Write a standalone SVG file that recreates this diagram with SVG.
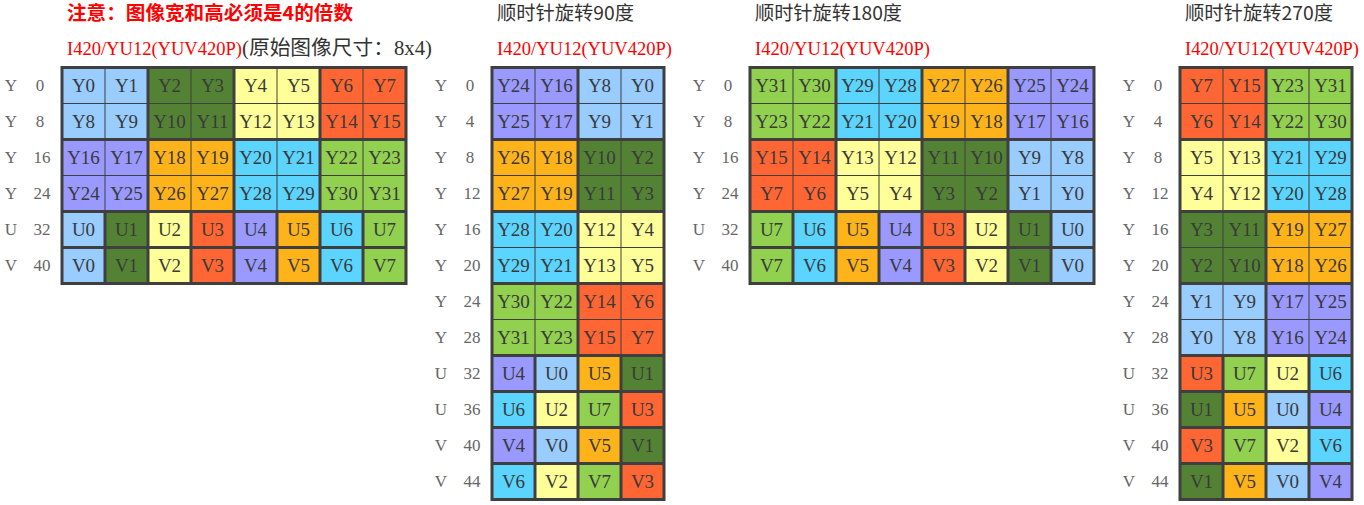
<svg xmlns="http://www.w3.org/2000/svg" width="1364" height="505" viewBox="0 0 1364 505">
<style>
.bg{fill:#3f3f3f}
.lb{fill:#99CCFF}.dg{fill:#548235}.ye{fill:#FFFF99}.rd{fill:#FF6633}.pu{fill:#9999FF}.or{fill:#FFB31A}.cy{fill:#5BD5FF}.gr{fill:#92D050}
text{font-family:"Liberation Serif","Noto Sans CJK SC",serif}
.c{font-size:19px;fill:#3a3a3a;text-anchor:middle}
.l{font-size:17px;fill:#666;text-anchor:middle}
.h{font-family:"Noto Sans CJK SC",sans-serif;font-size:19px;fill:#333}
.red{font-size:18.5px;fill:#FF0000}
.note{font-family:"Noto Sans CJK SC",sans-serif;font-size:19px;font-weight:bold;fill:#FF0000}
.sub{font-size:20px;fill:#333}
</style>
<g id="titles">
<text class="note" x="67" y="20" textLength="286" lengthAdjust="spacingAndGlyphs">注意：图像宽和高必须是4的倍数</text>
<text class="red" x="67" y="55" textLength="175" lengthAdjust="spacingAndGlyphs">I420/YU12(YUV420P)</text>
<text class="sub" x="242" y="55" textLength="190" lengthAdjust="spacingAndGlyphs">(原始图像尺寸：8x4)</text>
<text class="h" x="497" y="20" textLength="137" lengthAdjust="spacingAndGlyphs">顺时针旋转90度</text>
<text class="red" x="497" y="55" textLength="175" lengthAdjust="spacingAndGlyphs">I420/YU12(YUV420P)</text>
<text class="h" x="755" y="20" textLength="147" lengthAdjust="spacingAndGlyphs">顺时针旋转180度</text>
<text class="red" x="755" y="55" textLength="175" lengthAdjust="spacingAndGlyphs">I420/YU12(YUV420P)</text>
<text class="h" x="1185" y="20" textLength="148" lengthAdjust="spacingAndGlyphs">顺时针旋转270度</text>
<text class="red" x="1185" y="55" textLength="174" lengthAdjust="spacingAndGlyphs">I420/YU12(YUV420P)</text>
</g>

<g id="grid-original" transform="translate(62,0)">
<g id="a-labels">
<text class="l" x="-51" y="91">Y</text><text class="l" x="-22" y="91">0</text>
<text class="l" x="-51" y="127">Y</text><text class="l" x="-22" y="127">8</text>
<text class="l" x="-51" y="163">Y</text><text class="l" x="-20" y="163">16</text>
<text class="l" x="-51" y="199">Y</text><text class="l" x="-20" y="199">24</text>
<text class="l" x="-51" y="235">U</text><text class="l" x="-20" y="235">32</text>
<text class="l" x="-51" y="271">V</text><text class="l" x="-20" y="271">40</text>
</g>
<rect class="bg" x="-1.5" y="66" width="347" height="219"/>
<g id="a-Y0"><rect class="lb" x="1.5" y="69" width="41" height="34"/><text class="c" x="21.5" y="92">Y0</text></g>
<g id="a-Y1"><rect class="lb" x="43.5" y="69" width="41" height="34"/><text class="c" x="64.5" y="92">Y1</text></g>
<g id="a-Y2"><rect class="dg" x="87.5" y="69" width="41" height="34"/><text class="c" x="107.5" y="92">Y2</text></g>
<g id="a-Y3"><rect class="dg" x="129.5" y="69" width="41" height="34"/><text class="c" x="150.5" y="92">Y3</text></g>
<g id="a-Y4"><rect class="ye" x="173.5" y="69" width="41" height="34"/><text class="c" x="193.5" y="92">Y4</text></g>
<g id="a-Y5"><rect class="ye" x="215.5" y="69" width="41" height="34"/><text class="c" x="236.5" y="92">Y5</text></g>
<g id="a-Y6"><rect class="rd" x="259.5" y="69" width="41" height="34"/><text class="c" x="279.5" y="92">Y6</text></g>
<g id="a-Y7"><rect class="rd" x="301.5" y="69" width="41" height="34"/><text class="c" x="322.5" y="92">Y7</text></g>
<g id="a-Y8"><rect class="lb" x="1.5" y="104" width="41" height="34"/><text class="c" x="21.5" y="128">Y8</text></g>
<g id="a-Y9"><rect class="lb" x="43.5" y="104" width="41" height="34"/><text class="c" x="64.5" y="128">Y9</text></g>
<g id="a-Y10"><rect class="dg" x="87.5" y="104" width="41" height="34"/><text class="c" x="107.5" y="128">Y10</text></g>
<g id="a-Y11"><rect class="dg" x="129.5" y="104" width="41" height="34"/><text class="c" x="150.5" y="128">Y11</text></g>
<g id="a-Y12"><rect class="ye" x="173.5" y="104" width="41" height="34"/><text class="c" x="193.5" y="128">Y12</text></g>
<g id="a-Y13"><rect class="ye" x="215.5" y="104" width="41" height="34"/><text class="c" x="236.5" y="128">Y13</text></g>
<g id="a-Y14"><rect class="rd" x="259.5" y="104" width="41" height="34"/><text class="c" x="279.5" y="128">Y14</text></g>
<g id="a-Y15"><rect class="rd" x="301.5" y="104" width="41" height="34"/><text class="c" x="322.5" y="128">Y15</text></g>
<g id="a-Y16"><rect class="pu" x="1.5" y="141" width="41" height="34"/><text class="c" x="21.5" y="164">Y16</text></g>
<g id="a-Y17"><rect class="pu" x="43.5" y="141" width="41" height="34"/><text class="c" x="64.5" y="164">Y17</text></g>
<g id="a-Y18"><rect class="or" x="87.5" y="141" width="41" height="34"/><text class="c" x="107.5" y="164">Y18</text></g>
<g id="a-Y19"><rect class="or" x="129.5" y="141" width="41" height="34"/><text class="c" x="150.5" y="164">Y19</text></g>
<g id="a-Y20"><rect class="cy" x="173.5" y="141" width="41" height="34"/><text class="c" x="193.5" y="164">Y20</text></g>
<g id="a-Y21"><rect class="cy" x="215.5" y="141" width="41" height="34"/><text class="c" x="236.5" y="164">Y21</text></g>
<g id="a-Y22"><rect class="gr" x="259.5" y="141" width="41" height="34"/><text class="c" x="279.5" y="164">Y22</text></g>
<g id="a-Y23"><rect class="gr" x="301.5" y="141" width="41" height="34"/><text class="c" x="322.5" y="164">Y23</text></g>
<g id="a-Y24"><rect class="pu" x="1.5" y="176" width="41" height="34"/><text class="c" x="21.5" y="200">Y24</text></g>
<g id="a-Y25"><rect class="pu" x="43.5" y="176" width="41" height="34"/><text class="c" x="64.5" y="200">Y25</text></g>
<g id="a-Y26"><rect class="or" x="87.5" y="176" width="41" height="34"/><text class="c" x="107.5" y="200">Y26</text></g>
<g id="a-Y27"><rect class="or" x="129.5" y="176" width="41" height="34"/><text class="c" x="150.5" y="200">Y27</text></g>
<g id="a-Y28"><rect class="cy" x="173.5" y="176" width="41" height="34"/><text class="c" x="193.5" y="200">Y28</text></g>
<g id="a-Y29"><rect class="cy" x="215.5" y="176" width="41" height="34"/><text class="c" x="236.5" y="200">Y29</text></g>
<g id="a-Y30"><rect class="gr" x="259.5" y="176" width="41" height="34"/><text class="c" x="279.5" y="200">Y30</text></g>
<g id="a-Y31"><rect class="gr" x="301.5" y="176" width="41" height="34"/><text class="c" x="322.5" y="200">Y31</text></g>
<g id="a-U0"><rect class="lb" x="1.5" y="213" width="40" height="33"/><text class="c" x="21.5" y="236">U0</text></g>
<g id="a-U1"><rect class="dg" x="44.5" y="213" width="40" height="33"/><text class="c" x="64.5" y="236">U1</text></g>
<g id="a-U2"><rect class="ye" x="87.5" y="213" width="40" height="33"/><text class="c" x="107.5" y="236">U2</text></g>
<g id="a-U3"><rect class="rd" x="130.5" y="213" width="40" height="33"/><text class="c" x="150.5" y="236">U3</text></g>
<g id="a-U4"><rect class="pu" x="173.5" y="213" width="40" height="33"/><text class="c" x="193.5" y="236">U4</text></g>
<g id="a-U5"><rect class="or" x="216.5" y="213" width="40" height="33"/><text class="c" x="236.5" y="236">U5</text></g>
<g id="a-U6"><rect class="cy" x="259.5" y="213" width="40" height="33"/><text class="c" x="279.5" y="236">U6</text></g>
<g id="a-U7"><rect class="gr" x="302.5" y="213" width="40" height="33"/><text class="c" x="322.5" y="236">U7</text></g>
<g id="a-V0"><rect class="lb" x="1.5" y="249" width="40" height="33"/><text class="c" x="21.5" y="272">V0</text></g>
<g id="a-V1"><rect class="dg" x="44.5" y="249" width="40" height="33"/><text class="c" x="64.5" y="272">V1</text></g>
<g id="a-V2"><rect class="ye" x="87.5" y="249" width="40" height="33"/><text class="c" x="107.5" y="272">V2</text></g>
<g id="a-V3"><rect class="rd" x="130.5" y="249" width="40" height="33"/><text class="c" x="150.5" y="272">V3</text></g>
<g id="a-V4"><rect class="pu" x="173.5" y="249" width="40" height="33"/><text class="c" x="193.5" y="272">V4</text></g>
<g id="a-V5"><rect class="or" x="216.5" y="249" width="40" height="33"/><text class="c" x="236.5" y="272">V5</text></g>
<g id="a-V6"><rect class="cy" x="259.5" y="249" width="40" height="33"/><text class="c" x="279.5" y="272">V6</text></g>
<g id="a-V7"><rect class="gr" x="302.5" y="249" width="40" height="33"/><text class="c" x="322.5" y="272">V7</text></g>
</g>

<g id="grid-90" transform="translate(492,0)">
<g id="b-labels">
<text class="l" x="-51" y="91">Y</text><text class="l" x="-22" y="91">0</text>
<text class="l" x="-51" y="127">Y</text><text class="l" x="-22" y="127">4</text>
<text class="l" x="-51" y="163">Y</text><text class="l" x="-22" y="163">8</text>
<text class="l" x="-51" y="199">Y</text><text class="l" x="-20" y="199">12</text>
<text class="l" x="-51" y="235">Y</text><text class="l" x="-20" y="235">16</text>
<text class="l" x="-51" y="271">Y</text><text class="l" x="-20" y="271">20</text>
<text class="l" x="-51" y="307">Y</text><text class="l" x="-20" y="307">24</text>
<text class="l" x="-51" y="343">Y</text><text class="l" x="-20" y="343">28</text>
<text class="l" x="-51" y="379">U</text><text class="l" x="-20" y="379">32</text>
<text class="l" x="-51" y="415">U</text><text class="l" x="-20" y="415">36</text>
<text class="l" x="-51" y="451">V</text><text class="l" x="-20" y="451">40</text>
<text class="l" x="-51" y="487">V</text><text class="l" x="-20" y="487">44</text>
</g>
<rect class="bg" x="-1.5" y="66" width="175" height="435"/>
<g id="b-Y24"><rect class="pu" x="1.5" y="69" width="41" height="34"/><text class="c" x="21.5" y="92">Y24</text></g>
<g id="b-Y16"><rect class="pu" x="43.5" y="69" width="41" height="34"/><text class="c" x="64.5" y="92">Y16</text></g>
<g id="b-Y8"><rect class="lb" x="87.5" y="69" width="41" height="34"/><text class="c" x="107.5" y="92">Y8</text></g>
<g id="b-Y0"><rect class="lb" x="129.5" y="69" width="41" height="34"/><text class="c" x="150.5" y="92">Y0</text></g>
<g id="b-Y25"><rect class="pu" x="1.5" y="104" width="41" height="34"/><text class="c" x="21.5" y="128">Y25</text></g>
<g id="b-Y17"><rect class="pu" x="43.5" y="104" width="41" height="34"/><text class="c" x="64.5" y="128">Y17</text></g>
<g id="b-Y9"><rect class="lb" x="87.5" y="104" width="41" height="34"/><text class="c" x="107.5" y="128">Y9</text></g>
<g id="b-Y1"><rect class="lb" x="129.5" y="104" width="41" height="34"/><text class="c" x="150.5" y="128">Y1</text></g>
<g id="b-Y26"><rect class="or" x="1.5" y="141" width="41" height="34"/><text class="c" x="21.5" y="164">Y26</text></g>
<g id="b-Y18"><rect class="or" x="43.5" y="141" width="41" height="34"/><text class="c" x="64.5" y="164">Y18</text></g>
<g id="b-Y10"><rect class="dg" x="87.5" y="141" width="41" height="34"/><text class="c" x="107.5" y="164">Y10</text></g>
<g id="b-Y2"><rect class="dg" x="129.5" y="141" width="41" height="34"/><text class="c" x="150.5" y="164">Y2</text></g>
<g id="b-Y27"><rect class="or" x="1.5" y="176" width="41" height="34"/><text class="c" x="21.5" y="200">Y27</text></g>
<g id="b-Y19"><rect class="or" x="43.5" y="176" width="41" height="34"/><text class="c" x="64.5" y="200">Y19</text></g>
<g id="b-Y11"><rect class="dg" x="87.5" y="176" width="41" height="34"/><text class="c" x="107.5" y="200">Y11</text></g>
<g id="b-Y3"><rect class="dg" x="129.5" y="176" width="41" height="34"/><text class="c" x="150.5" y="200">Y3</text></g>
<g id="b-Y28"><rect class="cy" x="1.5" y="213" width="41" height="34"/><text class="c" x="21.5" y="236">Y28</text></g>
<g id="b-Y20"><rect class="cy" x="43.5" y="213" width="41" height="34"/><text class="c" x="64.5" y="236">Y20</text></g>
<g id="b-Y12"><rect class="ye" x="87.5" y="213" width="41" height="34"/><text class="c" x="107.5" y="236">Y12</text></g>
<g id="b-Y4"><rect class="ye" x="129.5" y="213" width="41" height="34"/><text class="c" x="150.5" y="236">Y4</text></g>
<g id="b-Y29"><rect class="cy" x="1.5" y="248" width="41" height="34"/><text class="c" x="21.5" y="272">Y29</text></g>
<g id="b-Y21"><rect class="cy" x="43.5" y="248" width="41" height="34"/><text class="c" x="64.5" y="272">Y21</text></g>
<g id="b-Y13"><rect class="ye" x="87.5" y="248" width="41" height="34"/><text class="c" x="107.5" y="272">Y13</text></g>
<g id="b-Y5"><rect class="ye" x="129.5" y="248" width="41" height="34"/><text class="c" x="150.5" y="272">Y5</text></g>
<g id="b-Y30"><rect class="gr" x="1.5" y="285" width="41" height="34"/><text class="c" x="21.5" y="308">Y30</text></g>
<g id="b-Y22"><rect class="gr" x="43.5" y="285" width="41" height="34"/><text class="c" x="64.5" y="308">Y22</text></g>
<g id="b-Y14"><rect class="rd" x="87.5" y="285" width="41" height="34"/><text class="c" x="107.5" y="308">Y14</text></g>
<g id="b-Y6"><rect class="rd" x="129.5" y="285" width="41" height="34"/><text class="c" x="150.5" y="308">Y6</text></g>
<g id="b-Y31"><rect class="gr" x="1.5" y="320" width="41" height="34"/><text class="c" x="21.5" y="344">Y31</text></g>
<g id="b-Y23"><rect class="gr" x="43.5" y="320" width="41" height="34"/><text class="c" x="64.5" y="344">Y23</text></g>
<g id="b-Y15"><rect class="rd" x="87.5" y="320" width="41" height="34"/><text class="c" x="107.5" y="344">Y15</text></g>
<g id="b-Y7"><rect class="rd" x="129.5" y="320" width="41" height="34"/><text class="c" x="150.5" y="344">Y7</text></g>
<g id="b-U4"><rect class="pu" x="1.5" y="357" width="40" height="33"/><text class="c" x="21.5" y="380">U4</text></g>
<g id="b-U0"><rect class="lb" x="44.5" y="357" width="40" height="33"/><text class="c" x="64.5" y="380">U0</text></g>
<g id="b-U5"><rect class="or" x="87.5" y="357" width="40" height="33"/><text class="c" x="107.5" y="380">U5</text></g>
<g id="b-U1"><rect class="dg" x="130.5" y="357" width="40" height="33"/><text class="c" x="150.5" y="380">U1</text></g>
<g id="b-U6"><rect class="cy" x="1.5" y="393" width="40" height="33"/><text class="c" x="21.5" y="416">U6</text></g>
<g id="b-U2"><rect class="ye" x="44.5" y="393" width="40" height="33"/><text class="c" x="64.5" y="416">U2</text></g>
<g id="b-U7"><rect class="gr" x="87.5" y="393" width="40" height="33"/><text class="c" x="107.5" y="416">U7</text></g>
<g id="b-U3"><rect class="rd" x="130.5" y="393" width="40" height="33"/><text class="c" x="150.5" y="416">U3</text></g>
<g id="b-V4"><rect class="pu" x="1.5" y="429" width="40" height="33"/><text class="c" x="21.5" y="452">V4</text></g>
<g id="b-V0"><rect class="lb" x="44.5" y="429" width="40" height="33"/><text class="c" x="64.5" y="452">V0</text></g>
<g id="b-V5"><rect class="or" x="87.5" y="429" width="40" height="33"/><text class="c" x="107.5" y="452">V5</text></g>
<g id="b-V1"><rect class="dg" x="130.5" y="429" width="40" height="33"/><text class="c" x="150.5" y="452">V1</text></g>
<g id="b-V6"><rect class="cy" x="1.5" y="465" width="40" height="33"/><text class="c" x="21.5" y="488">V6</text></g>
<g id="b-V2"><rect class="ye" x="44.5" y="465" width="40" height="33"/><text class="c" x="64.5" y="488">V2</text></g>
<g id="b-V7"><rect class="gr" x="87.5" y="465" width="40" height="33"/><text class="c" x="107.5" y="488">V7</text></g>
<g id="b-V3"><rect class="rd" x="130.5" y="465" width="40" height="33"/><text class="c" x="150.5" y="488">V3</text></g>
</g>

<g id="grid-180" transform="translate(750,0)">
<g id="c-labels">
<text class="l" x="-51" y="91">Y</text><text class="l" x="-22" y="91">0</text>
<text class="l" x="-51" y="127">Y</text><text class="l" x="-22" y="127">8</text>
<text class="l" x="-51" y="163">Y</text><text class="l" x="-20" y="163">16</text>
<text class="l" x="-51" y="199">Y</text><text class="l" x="-20" y="199">24</text>
<text class="l" x="-51" y="235">U</text><text class="l" x="-20" y="235">32</text>
<text class="l" x="-51" y="271">V</text><text class="l" x="-20" y="271">40</text>
</g>
<rect class="bg" x="-1.5" y="66" width="347" height="219"/>
<g id="c-Y31"><rect class="gr" x="1.5" y="69" width="41" height="34"/><text class="c" x="21.5" y="92">Y31</text></g>
<g id="c-Y30"><rect class="gr" x="43.5" y="69" width="41" height="34"/><text class="c" x="64.5" y="92">Y30</text></g>
<g id="c-Y29"><rect class="cy" x="87.5" y="69" width="41" height="34"/><text class="c" x="107.5" y="92">Y29</text></g>
<g id="c-Y28"><rect class="cy" x="129.5" y="69" width="41" height="34"/><text class="c" x="150.5" y="92">Y28</text></g>
<g id="c-Y27"><rect class="or" x="173.5" y="69" width="41" height="34"/><text class="c" x="193.5" y="92">Y27</text></g>
<g id="c-Y26"><rect class="or" x="215.5" y="69" width="41" height="34"/><text class="c" x="236.5" y="92">Y26</text></g>
<g id="c-Y25"><rect class="pu" x="259.5" y="69" width="41" height="34"/><text class="c" x="279.5" y="92">Y25</text></g>
<g id="c-Y24"><rect class="pu" x="301.5" y="69" width="41" height="34"/><text class="c" x="322.5" y="92">Y24</text></g>
<g id="c-Y23"><rect class="gr" x="1.5" y="104" width="41" height="34"/><text class="c" x="21.5" y="128">Y23</text></g>
<g id="c-Y22"><rect class="gr" x="43.5" y="104" width="41" height="34"/><text class="c" x="64.5" y="128">Y22</text></g>
<g id="c-Y21"><rect class="cy" x="87.5" y="104" width="41" height="34"/><text class="c" x="107.5" y="128">Y21</text></g>
<g id="c-Y20"><rect class="cy" x="129.5" y="104" width="41" height="34"/><text class="c" x="150.5" y="128">Y20</text></g>
<g id="c-Y19"><rect class="or" x="173.5" y="104" width="41" height="34"/><text class="c" x="193.5" y="128">Y19</text></g>
<g id="c-Y18"><rect class="or" x="215.5" y="104" width="41" height="34"/><text class="c" x="236.5" y="128">Y18</text></g>
<g id="c-Y17"><rect class="pu" x="259.5" y="104" width="41" height="34"/><text class="c" x="279.5" y="128">Y17</text></g>
<g id="c-Y16"><rect class="pu" x="301.5" y="104" width="41" height="34"/><text class="c" x="322.5" y="128">Y16</text></g>
<g id="c-Y15"><rect class="rd" x="1.5" y="141" width="41" height="34"/><text class="c" x="21.5" y="164">Y15</text></g>
<g id="c-Y14"><rect class="rd" x="43.5" y="141" width="41" height="34"/><text class="c" x="64.5" y="164">Y14</text></g>
<g id="c-Y13"><rect class="ye" x="87.5" y="141" width="41" height="34"/><text class="c" x="107.5" y="164">Y13</text></g>
<g id="c-Y12"><rect class="ye" x="129.5" y="141" width="41" height="34"/><text class="c" x="150.5" y="164">Y12</text></g>
<g id="c-Y11"><rect class="dg" x="173.5" y="141" width="41" height="34"/><text class="c" x="193.5" y="164">Y11</text></g>
<g id="c-Y10"><rect class="dg" x="215.5" y="141" width="41" height="34"/><text class="c" x="236.5" y="164">Y10</text></g>
<g id="c-Y9"><rect class="lb" x="259.5" y="141" width="41" height="34"/><text class="c" x="279.5" y="164">Y9</text></g>
<g id="c-Y8"><rect class="lb" x="301.5" y="141" width="41" height="34"/><text class="c" x="322.5" y="164">Y8</text></g>
<g id="c-Y7"><rect class="rd" x="1.5" y="176" width="41" height="34"/><text class="c" x="21.5" y="200">Y7</text></g>
<g id="c-Y6"><rect class="rd" x="43.5" y="176" width="41" height="34"/><text class="c" x="64.5" y="200">Y6</text></g>
<g id="c-Y5"><rect class="ye" x="87.5" y="176" width="41" height="34"/><text class="c" x="107.5" y="200">Y5</text></g>
<g id="c-Y4"><rect class="ye" x="129.5" y="176" width="41" height="34"/><text class="c" x="150.5" y="200">Y4</text></g>
<g id="c-Y3"><rect class="dg" x="173.5" y="176" width="41" height="34"/><text class="c" x="193.5" y="200">Y3</text></g>
<g id="c-Y2"><rect class="dg" x="215.5" y="176" width="41" height="34"/><text class="c" x="236.5" y="200">Y2</text></g>
<g id="c-Y1"><rect class="lb" x="259.5" y="176" width="41" height="34"/><text class="c" x="279.5" y="200">Y1</text></g>
<g id="c-Y0"><rect class="lb" x="301.5" y="176" width="41" height="34"/><text class="c" x="322.5" y="200">Y0</text></g>
<g id="c-U7"><rect class="gr" x="1.5" y="213" width="40" height="33"/><text class="c" x="21.5" y="236">U7</text></g>
<g id="c-U6"><rect class="cy" x="44.5" y="213" width="40" height="33"/><text class="c" x="64.5" y="236">U6</text></g>
<g id="c-U5"><rect class="or" x="87.5" y="213" width="40" height="33"/><text class="c" x="107.5" y="236">U5</text></g>
<g id="c-U4"><rect class="pu" x="130.5" y="213" width="40" height="33"/><text class="c" x="150.5" y="236">U4</text></g>
<g id="c-U3"><rect class="rd" x="173.5" y="213" width="40" height="33"/><text class="c" x="193.5" y="236">U3</text></g>
<g id="c-U2"><rect class="ye" x="216.5" y="213" width="40" height="33"/><text class="c" x="236.5" y="236">U2</text></g>
<g id="c-U1"><rect class="dg" x="259.5" y="213" width="40" height="33"/><text class="c" x="279.5" y="236">U1</text></g>
<g id="c-U0"><rect class="lb" x="302.5" y="213" width="40" height="33"/><text class="c" x="322.5" y="236">U0</text></g>
<g id="c-V7"><rect class="gr" x="1.5" y="249" width="40" height="33"/><text class="c" x="21.5" y="272">V7</text></g>
<g id="c-V6"><rect class="cy" x="44.5" y="249" width="40" height="33"/><text class="c" x="64.5" y="272">V6</text></g>
<g id="c-V5"><rect class="or" x="87.5" y="249" width="40" height="33"/><text class="c" x="107.5" y="272">V5</text></g>
<g id="c-V4"><rect class="pu" x="130.5" y="249" width="40" height="33"/><text class="c" x="150.5" y="272">V4</text></g>
<g id="c-V3"><rect class="rd" x="173.5" y="249" width="40" height="33"/><text class="c" x="193.5" y="272">V3</text></g>
<g id="c-V2"><rect class="ye" x="216.5" y="249" width="40" height="33"/><text class="c" x="236.5" y="272">V2</text></g>
<g id="c-V1"><rect class="dg" x="259.5" y="249" width="40" height="33"/><text class="c" x="279.5" y="272">V1</text></g>
<g id="c-V0"><rect class="lb" x="302.5" y="249" width="40" height="33"/><text class="c" x="322.5" y="272">V0</text></g>
</g>

<g id="grid-270" transform="translate(1180,0)">
<g id="d-labels">
<text class="l" x="-51" y="91">Y</text><text class="l" x="-22" y="91">0</text>
<text class="l" x="-51" y="127">Y</text><text class="l" x="-22" y="127">4</text>
<text class="l" x="-51" y="163">Y</text><text class="l" x="-22" y="163">8</text>
<text class="l" x="-51" y="199">Y</text><text class="l" x="-20" y="199">12</text>
<text class="l" x="-51" y="235">Y</text><text class="l" x="-20" y="235">16</text>
<text class="l" x="-51" y="271">Y</text><text class="l" x="-20" y="271">20</text>
<text class="l" x="-51" y="307">Y</text><text class="l" x="-20" y="307">24</text>
<text class="l" x="-51" y="343">Y</text><text class="l" x="-20" y="343">28</text>
<text class="l" x="-51" y="379">U</text><text class="l" x="-20" y="379">32</text>
<text class="l" x="-51" y="415">U</text><text class="l" x="-20" y="415">36</text>
<text class="l" x="-51" y="451">V</text><text class="l" x="-20" y="451">40</text>
<text class="l" x="-51" y="487">V</text><text class="l" x="-20" y="487">44</text>
</g>
<rect class="bg" x="-1.5" y="66" width="175" height="435"/>
<g id="d-Y7"><rect class="rd" x="1.5" y="69" width="41" height="34"/><text class="c" x="21.5" y="92">Y7</text></g>
<g id="d-Y15"><rect class="rd" x="43.5" y="69" width="41" height="34"/><text class="c" x="64.5" y="92">Y15</text></g>
<g id="d-Y23"><rect class="gr" x="87.5" y="69" width="41" height="34"/><text class="c" x="107.5" y="92">Y23</text></g>
<g id="d-Y31"><rect class="gr" x="129.5" y="69" width="41" height="34"/><text class="c" x="150.5" y="92">Y31</text></g>
<g id="d-Y6"><rect class="rd" x="1.5" y="104" width="41" height="34"/><text class="c" x="21.5" y="128">Y6</text></g>
<g id="d-Y14"><rect class="rd" x="43.5" y="104" width="41" height="34"/><text class="c" x="64.5" y="128">Y14</text></g>
<g id="d-Y22"><rect class="gr" x="87.5" y="104" width="41" height="34"/><text class="c" x="107.5" y="128">Y22</text></g>
<g id="d-Y30"><rect class="gr" x="129.5" y="104" width="41" height="34"/><text class="c" x="150.5" y="128">Y30</text></g>
<g id="d-Y5"><rect class="ye" x="1.5" y="141" width="41" height="34"/><text class="c" x="21.5" y="164">Y5</text></g>
<g id="d-Y13"><rect class="ye" x="43.5" y="141" width="41" height="34"/><text class="c" x="64.5" y="164">Y13</text></g>
<g id="d-Y21"><rect class="cy" x="87.5" y="141" width="41" height="34"/><text class="c" x="107.5" y="164">Y21</text></g>
<g id="d-Y29"><rect class="cy" x="129.5" y="141" width="41" height="34"/><text class="c" x="150.5" y="164">Y29</text></g>
<g id="d-Y4"><rect class="ye" x="1.5" y="176" width="41" height="34"/><text class="c" x="21.5" y="200">Y4</text></g>
<g id="d-Y12"><rect class="ye" x="43.5" y="176" width="41" height="34"/><text class="c" x="64.5" y="200">Y12</text></g>
<g id="d-Y20"><rect class="cy" x="87.5" y="176" width="41" height="34"/><text class="c" x="107.5" y="200">Y20</text></g>
<g id="d-Y28"><rect class="cy" x="129.5" y="176" width="41" height="34"/><text class="c" x="150.5" y="200">Y28</text></g>
<g id="d-Y3"><rect class="dg" x="1.5" y="213" width="41" height="34"/><text class="c" x="21.5" y="236">Y3</text></g>
<g id="d-Y11"><rect class="dg" x="43.5" y="213" width="41" height="34"/><text class="c" x="64.5" y="236">Y11</text></g>
<g id="d-Y19"><rect class="or" x="87.5" y="213" width="41" height="34"/><text class="c" x="107.5" y="236">Y19</text></g>
<g id="d-Y27"><rect class="or" x="129.5" y="213" width="41" height="34"/><text class="c" x="150.5" y="236">Y27</text></g>
<g id="d-Y2"><rect class="dg" x="1.5" y="248" width="41" height="34"/><text class="c" x="21.5" y="272">Y2</text></g>
<g id="d-Y10"><rect class="dg" x="43.5" y="248" width="41" height="34"/><text class="c" x="64.5" y="272">Y10</text></g>
<g id="d-Y18"><rect class="or" x="87.5" y="248" width="41" height="34"/><text class="c" x="107.5" y="272">Y18</text></g>
<g id="d-Y26"><rect class="or" x="129.5" y="248" width="41" height="34"/><text class="c" x="150.5" y="272">Y26</text></g>
<g id="d-Y1"><rect class="lb" x="1.5" y="285" width="41" height="34"/><text class="c" x="21.5" y="308">Y1</text></g>
<g id="d-Y9"><rect class="lb" x="43.5" y="285" width="41" height="34"/><text class="c" x="64.5" y="308">Y9</text></g>
<g id="d-Y17"><rect class="pu" x="87.5" y="285" width="41" height="34"/><text class="c" x="107.5" y="308">Y17</text></g>
<g id="d-Y25"><rect class="pu" x="129.5" y="285" width="41" height="34"/><text class="c" x="150.5" y="308">Y25</text></g>
<g id="d-Y0"><rect class="lb" x="1.5" y="320" width="41" height="34"/><text class="c" x="21.5" y="344">Y0</text></g>
<g id="d-Y8"><rect class="lb" x="43.5" y="320" width="41" height="34"/><text class="c" x="64.5" y="344">Y8</text></g>
<g id="d-Y16"><rect class="pu" x="87.5" y="320" width="41" height="34"/><text class="c" x="107.5" y="344">Y16</text></g>
<g id="d-Y24"><rect class="pu" x="129.5" y="320" width="41" height="34"/><text class="c" x="150.5" y="344">Y24</text></g>
<g id="d-U3"><rect class="rd" x="1.5" y="357" width="40" height="33"/><text class="c" x="21.5" y="380">U3</text></g>
<g id="d-U7"><rect class="gr" x="44.5" y="357" width="40" height="33"/><text class="c" x="64.5" y="380">U7</text></g>
<g id="d-U2"><rect class="ye" x="87.5" y="357" width="40" height="33"/><text class="c" x="107.5" y="380">U2</text></g>
<g id="d-U6"><rect class="cy" x="130.5" y="357" width="40" height="33"/><text class="c" x="150.5" y="380">U6</text></g>
<g id="d-U1"><rect class="dg" x="1.5" y="393" width="40" height="33"/><text class="c" x="21.5" y="416">U1</text></g>
<g id="d-U5"><rect class="or" x="44.5" y="393" width="40" height="33"/><text class="c" x="64.5" y="416">U5</text></g>
<g id="d-U0"><rect class="lb" x="87.5" y="393" width="40" height="33"/><text class="c" x="107.5" y="416">U0</text></g>
<g id="d-U4"><rect class="pu" x="130.5" y="393" width="40" height="33"/><text class="c" x="150.5" y="416">U4</text></g>
<g id="d-V3"><rect class="rd" x="1.5" y="429" width="40" height="33"/><text class="c" x="21.5" y="452">V3</text></g>
<g id="d-V7"><rect class="gr" x="44.5" y="429" width="40" height="33"/><text class="c" x="64.5" y="452">V7</text></g>
<g id="d-V2"><rect class="ye" x="87.5" y="429" width="40" height="33"/><text class="c" x="107.5" y="452">V2</text></g>
<g id="d-V6"><rect class="cy" x="130.5" y="429" width="40" height="33"/><text class="c" x="150.5" y="452">V6</text></g>
<g id="d-V1"><rect class="dg" x="1.5" y="465" width="40" height="33"/><text class="c" x="21.5" y="488">V1</text></g>
<g id="d-V5"><rect class="or" x="44.5" y="465" width="40" height="33"/><text class="c" x="64.5" y="488">V5</text></g>
<g id="d-V0"><rect class="lb" x="87.5" y="465" width="40" height="33"/><text class="c" x="107.5" y="488">V0</text></g>
<g id="d-V4"><rect class="pu" x="130.5" y="465" width="40" height="33"/><text class="c" x="150.5" y="488">V4</text></g>
</g>
</svg>
